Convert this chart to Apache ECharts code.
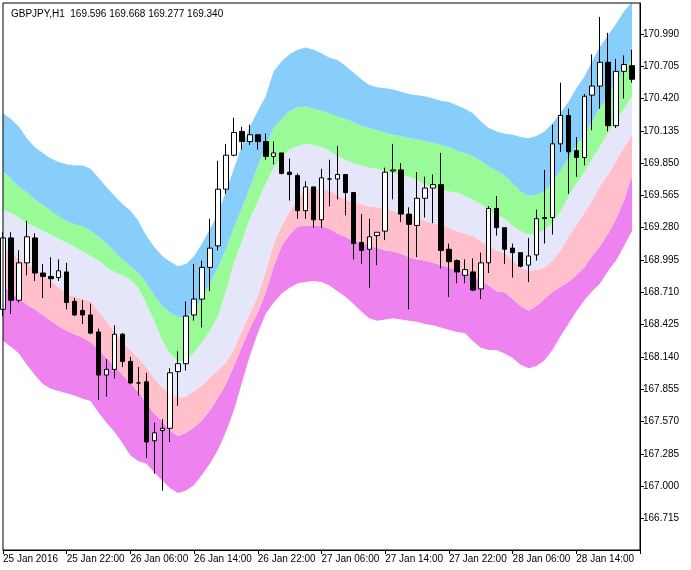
<!DOCTYPE html>
<html>
<head>
<meta charset="utf-8">
<script src="https://cdn.jsdelivr.net/npm/echarts@6/dist/echarts.min.js"></script>
<style>html,body{margin:0;padding:0;background:#fff}#chart{width:691px;height:570px}</style>
</head>
<body>
<div id="chart"></div>
<script>
// candles: open, high, low, close (GBPJPY H1, from 25 Jan 2016 14:00)
var open = [168.56,169.19,168.64,168.97,169.19,168.88,168.85,168.84,168.89,168.63,168.55,168.51,168.36,167.98,168.03,168.34,168.10,167.91,167.92,167.40,
	167.49,167.51,168.01,168.08,168.51,168.65,168.93,169.12,169.62,169.92,170.13,170.04,170.10,170.04,169.91,169.94,169.77,169.74,169.43,169.64,
	169.35,169.71,169.71,169.75,169.59,169.15,169.09,169.21,169.25,169.78,169.79,169.40,169.30,169.54,169.63,169.66,169.09,168.99,168.86,168.89,
	168.74,168.97,169.45,169.28,169.10,169.06,168.95,169.04,169.36,169.37,170.02,170.27,169.96,169.90,170.45,170.53,170.74,170.18,170.66,170.71];
var high = [169.24,169.24,169.08,169.34,169.23,168.96,169.02,169.00,168.97,168.66,168.64,168.61,168.39,168.12,168.42,168.35,168.14,168.05,168.00,167.56,
	167.59,168.04,168.19,168.63,168.96,168.99,169.36,169.87,170.02,170.25,170.17,170.19,170.10,170.11,170.04,169.94,169.89,169.76,169.69,169.64,
	169.80,169.88,170.00,169.75,169.59,169.40,169.36,169.24,169.81,170.02,169.85,169.46,169.77,169.73,169.75,169.94,169.14,169.00,169.00,169.01,
	169.06,169.47,169.56,169.28,169.14,169.06,169.19,169.44,169.79,170.19,170.56,170.33,170.08,170.46,170.81,171.14,171.00,170.77,170.80,170.85];
var low = [168.50,168.52,168.62,168.86,168.81,168.66,168.75,168.81,168.56,168.50,168.43,168.34,167.76,167.79,167.95,168.05,167.90,167.80,167.25,167.11,
	166.96,167.39,167.71,168.02,168.46,168.40,168.72,169.08,169.58,169.91,169.97,170.01,169.97,169.88,169.84,169.75,169.52,169.36,169.36,169.28,
	169.28,169.47,169.53,169.39,169.00,168.96,168.75,168.95,169.17,169.53,169.33,168.56,169.02,169.37,169.32,168.92,168.67,168.79,168.79,168.72,
	168.65,168.88,169.21,168.96,168.84,168.93,168.80,168.99,169.14,169.22,169.95,169.58,169.73,169.83,170.14,170.33,170.13,170.16,170.42,170.56];
var close = [169.19,168.64,168.97,169.20,168.88,168.85,168.83,168.90,168.62,168.51,168.51,168.35,167.98,168.03,168.34,168.10,167.91,167.91,167.39,167.47,
	167.51,168.00,168.08,168.50,168.65,168.93,169.10,169.62,169.92,170.12,170.04,170.10,170.04,169.91,169.94,169.76,169.75,169.43,169.64,169.35,
	169.72,169.71,169.75,169.59,169.14,169.08,169.20,169.24,169.77,169.79,169.40,169.31,169.54,169.63,169.66,169.08,168.98,168.89,168.91,168.73,
	168.97,169.45,169.28,169.09,169.06,168.94,169.03,169.36,169.37,170.02,170.27,169.95,169.90,170.44,170.53,170.74,170.18,170.66,170.72,170.59];

// band edges, top to bottom
var band0 = [170.29,170.24,170.17,170.07,169.99,169.94,169.89,169.86,169.84,169.83,169.83,169.80,169.72,169.64,169.56,169.49,169.43,169.34,169.21,169.11,
	169.03,168.98,168.94,168.96,169.03,169.14,169.27,169.40,169.60,169.80,170.00,170.17,170.31,170.44,170.66,170.75,170.81,170.85,170.87,170.85,
	170.82,170.78,170.76,170.71,170.65,170.59,170.54,170.52,170.51,170.50,170.48,170.46,170.45,170.44,170.42,170.40,170.39,170.36,170.33,170.29,
	170.22,170.16,170.13,170.11,170.10,170.08,170.07,170.09,170.13,170.20,170.29,170.39,170.51,170.61,170.75,170.88,170.98,171.08,171.19,171.27];
var band1 = [169.78,169.71,169.64,169.59,169.53,169.48,169.43,169.38,169.34,169.31,169.29,169.25,169.20,169.14,169.07,169.00,168.94,168.88,168.79,168.68,
	168.59,168.53,168.49,168.49,168.55,168.66,168.79,168.93,169.09,169.28,169.45,169.63,169.82,170.00,170.16,170.24,170.31,170.34,170.35,170.33,
	170.31,170.29,170.26,170.24,170.21,170.18,170.16,170.14,170.12,170.10,170.09,170.07,170.06,170.04,170.03,170.01,169.99,169.96,169.94,169.91,
	169.87,169.82,169.78,169.74,169.67,169.60,169.56,169.57,169.60,169.68,169.78,169.89,170.00,170.10,170.22,170.34,170.44,170.57,170.68,170.78];
var band2 = [169.44,169.41,169.37,169.32,169.29,169.25,169.22,169.18,169.15,169.11,169.07,169.03,168.99,168.93,168.89,168.86,168.82,168.75,168.61,168.46,
	168.28,168.17,168.10,168.11,168.18,168.27,168.37,168.50,168.72,168.97,169.16,169.36,169.51,169.67,169.81,169.90,169.97,170.00,170.02,170.01,
	169.99,169.96,169.91,169.88,169.85,169.83,169.81,169.80,169.78,169.76,169.74,169.73,169.70,169.66,169.64,169.62,169.60,169.59,169.56,169.53,
	169.49,169.44,169.39,169.36,169.30,169.25,169.22,169.23,169.26,169.32,169.42,169.55,169.67,169.77,169.89,170.00,170.12,170.24,170.33,170.44];
var band3 = [169.10,169.06,169.00,168.96,168.92,168.87,168.81,168.75,168.70,168.67,168.65,168.63,168.54,168.46,168.36,168.27,168.20,168.13,168.05,167.95,
	167.87,167.82,167.78,167.79,167.84,167.89,167.96,168.02,168.09,168.21,168.37,168.52,168.68,168.90,169.14,169.30,169.42,169.53,169.62,169.63,
	169.62,169.61,169.57,169.53,169.51,169.49,169.47,169.46,169.44,169.43,169.41,169.38,169.37,169.34,169.32,169.30,169.28,169.25,169.23,169.21,
	169.16,169.12,169.08,169.06,168.99,168.93,168.90,168.91,168.93,168.99,169.08,169.20,169.30,169.41,169.52,169.65,169.75,169.87,169.99,170.10];
var band4 = [168.77,168.71,168.65,168.60,168.56,168.51,168.46,168.41,168.37,168.34,168.31,168.27,168.20,168.13,168.06,167.98,167.91,167.83,167.73,167.64,
	167.57,167.49,167.44,167.47,167.52,167.58,167.67,167.78,167.90,168.06,168.23,168.39,168.53,168.71,168.94,169.12,169.22,169.29,169.30,169.30,
	169.29,169.27,169.23,169.20,169.16,169.15,169.12,169.10,169.08,169.07,169.05,169.02,169.00,168.99,168.97,168.95,168.93,168.91,168.89,168.86,
	168.81,168.77,168.72,168.71,168.65,168.59,168.55,168.59,168.65,168.71,168.76,168.80,168.86,168.93,169.03,169.12,169.23,169.36,169.52,169.74];
var band5 = [168.28,168.23,168.17,168.07,167.98,167.90,167.86,167.84,167.82,167.80,167.77,167.75,167.65,167.56,167.48,167.38,167.27,167.22,167.20,167.12,
	167.05,166.98,166.94,166.96,167.01,167.10,167.20,167.32,167.48,167.67,167.91,168.15,168.35,168.52,168.62,168.70,168.75,168.79,168.80,168.81,
	168.80,168.77,168.72,168.67,168.61,168.54,168.48,168.46,168.47,168.48,168.47,168.46,168.45,168.43,168.42,168.40,168.38,168.36,168.35,168.28,
	168.22,168.20,168.20,168.17,168.13,168.07,168.04,168.06,168.11,168.20,168.32,168.43,168.54,168.64,168.72,168.79,168.90,168.99,169.12,169.25];

var yTicks = [166.715,167.000,167.285,167.570,167.855,168.140,168.425,168.710,168.995,169.280,169.565,169.850,170.135,170.420,170.705,170.990];
var xLabels = ['25 Jan 2016','25 Jan 22:00','26 Jan 06:00','26 Jan 14:00','26 Jan 22:00','27 Jan 06:00','27 Jan 14:00','27 Jan 22:00','28 Jan 06:00','28 Jan 14:00'];
var title = 'GBPJPY,H1  169.596 169.668 169.277 169.340';

// one spare slot on the right, like the terminal's shift
var categories = [];
for (var i = 0; i <= open.length; i++) categories.push(i);

function diff(a, b) {
	return a.map(function (v, i) { return +(v - b[i]).toFixed(3); });
}
var candles = open.map(function (o, i) { return [o, close[i], low[i], high[i]]; });

var bandColors = ['#ee82ee', '#ffc0cb', '#e6e6fa', '#98fb98', '#87cefa'];
var bandData = [diff(band4, band5), diff(band3, band4), diff(band2, band3), diff(band1, band2), diff(band0, band1)];

var series = [{
	type: 'line', stack: 'b', data: band5, symbol: 'none', lineStyle: {width: 0}, silent: true, z: 1
}];
bandData.forEach(function (d, k) {
	series.push({
		type: 'line', stack: 'b', data: d, symbol: 'none', silent: true, z: 1,
		lineStyle: {width: 0}, areaStyle: {color: bandColors[k], opacity: 1}
	});
});
series.push({
	type: 'candlestick', data: candles, barWidth: 5, z: 10, clip: true,
	itemStyle: {color: '#fff', color0: '#000', borderColor: '#000', borderColor0: '#000', borderWidth: 1}
});

var font = 'Liberation Sans';
var option = {
	animation: false,
	backgroundColor: '#fff',
	textStyle: {fontFamily: font},
	title: {text: title, left: 6, top: 4, textStyle: {fontSize: 10, fontWeight: 'normal', color: '#000', fontFamily: font}},
	grid: {left: 2, right: 51, top: 3, bottom: 20, show: true, borderColor: '#000', borderWidth: 1, z: 20},
	xAxis: {
		type: 'category', data: categories, boundaryGap: false,
		axisLine: {lineStyle: {color: '#000'}},
		axisTick: {interval: 7, length: 4, lineStyle: {color: '#000'}},
		axisLabel: {
			interval: 7, align: 'left', margin: 4, color: '#000', fontSize: 10, fontFamily: font,
			formatter: function (v, i) { return xLabels[i / 8] || ''; }
		},
		splitLine: {show: false}
	},
	yAxis: {
		type: 'value', position: 'right', min: 166.436, max: 171.263, scale: true,
		axisLine: {show: true, lineStyle: {color: '#000'}},
		axisTick: {show: true, length: 4, customValues: yTicks, lineStyle: {color: '#000'}},
		axisLabel: {customValues: yTicks, margin: 3, color: '#000', fontSize: 10, fontFamily: font,
			formatter: function (v) { return v.toFixed(3); }},
		splitLine: {show: false}
	},
	series: series
};

var chart = echarts.init(document.getElementById('chart'));
chart.setOption(option);
</script>
</body>
</html>
